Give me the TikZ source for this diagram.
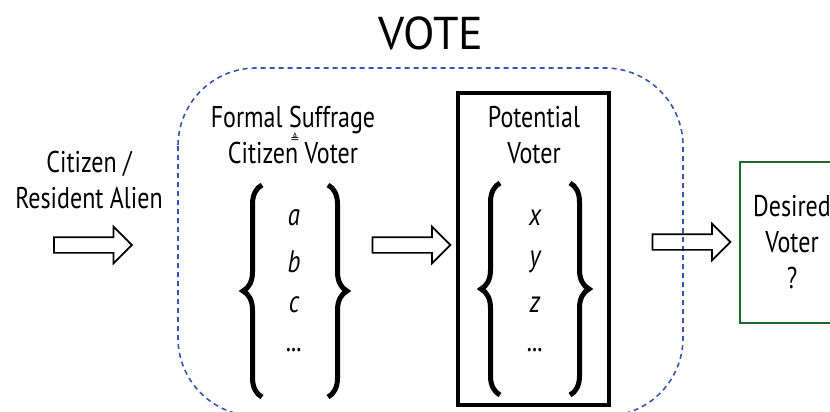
\documentclass[tikz,border=0pt]{standalone}
\usepackage{fontspec}
\setmainfont{PT Sans}[FakeStretch=0.8]
\newfontfamily\titlefont{PT Sans}
\newfontfamily\symfont{DejaVu Sans}
\usetikzlibrary{positioning,shapes.arrows,decorations.pathreplacing}

\definecolor{voteblue}{RGB}{55,85,175}
\definecolor{desgreen}{RGB}{35,105,45}

\begin{document}
\begin{tikzpicture}[x=1pt,y=-1pt,
		txt/.style={
			align=center,
			inner sep=0pt,
			font=\fontsize{30}{36}\selectfont
		},
		item/.style={inner sep=0pt, font=\fontsize{31}{31}\selectfont\itshape},
		fatarrow/.style={
			single arrow,
			draw,
			line width=1.7pt,
			minimum height=78pt,
			text height=14pt,
			text depth=0pt,
			single arrow head extend=10.5pt,
			single arrow head indent=0pt,
			inner sep=0pt
		},
		curly/.style={decorate, decoration={brace, amplitude=19pt}, line width=5pt},
		frame/.style={draw, line width=3.5pt, inner sep=0pt}
		]
		\useasboundingbox (0,0) rectangle (830,412);
		
		% Title
		\node[font=\titlefont\fontsize{46}{46}\selectfont] (vote) at (431,33) {VOTE};
		
		% Dashed region
		\draw[voteblue, line width=1.6pt, dash pattern=on 5pt off 4pt, rounded corners=78pt]
		(178,68) rectangle (683,416);
		
		% Left text
		\node[txt] (citizen) at (89,180) {Citizen /\\Resident Alien};
		\node[fatarrow] (arr1) at (89,245) {};
		
		% Formal suffrage group
		\node[txt] (formal) at (293,135) {Formal Suffrage\\Citizen Voter};
		\node[inner sep=0pt, font=\symfont\fontsize{11}{11}\selectfont] (eqsym) at (295,138) {≜};
		\node[item] (a) at (294,218) {a};
		\node[item] (b) at (294,262) {b};
		\node[item] (c) at (294,305) {c};
		\node[item] (dots1) at (294,350) {...};
		\draw[curly] (262,397) -- (262,185);
		\draw[curly] (328,185) -- (328,397);
		
		\node[fatarrow] (arr2) at (407.5,245) {};
		
		% Potential voter box
		\node[frame, minimum width=151pt, minimum height=312pt] (potbox) at (533.5,249) {};
		\node[txt] (potential) at (534,135) {Potential\\Voter};
		\node[item] (x) at (535,218) {x};
		\node[item] (y) at (535,262) {y};
		\node[item] (z) at (535,305) {z};
		\node[item] (dots2) at (535,350) {...};
		\draw[curly] (500,395) -- (500,183);
		\draw[curly] (570,183) -- (570,395);
		
		\node[fatarrow] (arr3) at (687.5,242) {};
		
		% Desired voter
		\node[draw=desgreen, line width=2pt, minimum width=104pt, minimum height=161pt,
		txt] (desired) at (792,242.5) {Desired\\Voter\\?};
		
	\end{tikzpicture}
\end{document}
